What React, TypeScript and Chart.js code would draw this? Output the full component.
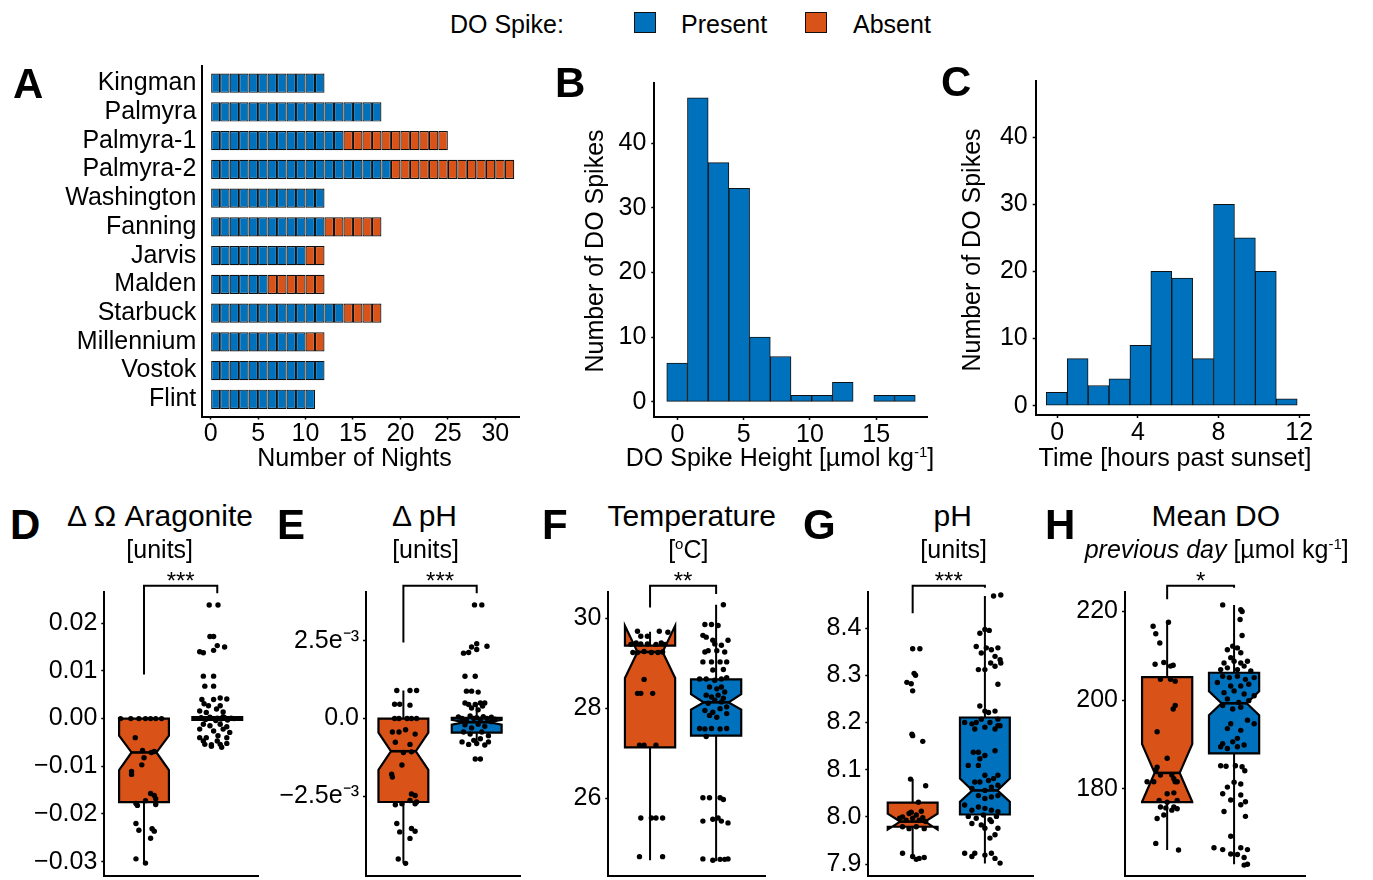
import React, { useEffect, useRef } from "react";
import { Chart, registerables } from "chart.js";

Chart.register(...registerables);

const BLUE = "#0072BD";
const ORANGE = "#D95319";
const EDGE = "#111111";
const FONT = "'Liberation Sans', Arial, Helvetica, sans-serif";

Chart.defaults.font.family = FONT;
Chart.defaults.font.size = 25;
Chart.defaults.color = "#000";

// ---------------- Panel A: nights per site ----------------
const sites = ["Kingman", "Palmyra", "Palmyra-1", "Palmyra-2", "Washington", "Fanning", "Jarvis", "Malden", "Starbuck", "Millennium", "Vostok", "Flint"];
const nightsPresent = [12, 18, 14, 19, 12, 12, 10, 6, 14, 10, 12, 11];
const nightsAbsent = [0, 0, 11, 13, 0, 6, 2, 6, 4, 2, 0, 0];
const nightTicks = [0, 5, 10, 15, 20, 25, 30];

// ---------------- Panel B: spike height histogram ----------------
const heightBinStarts = [-0.8, 0.7625, 2.325, 3.8875, 5.45, 7.0125, 8.575, 10.1375, 11.7, 13.2625, 14.825, 16.3875];
const heightBinWidth = 1.5625;
const heightCounts = [6, 47, 37, 33, 10, 7, 1, 1, 3, 0, 1, 1];
const heightTicks = [0, 5, 10, 15];
const spikeCountTicks = [0, 10, 20, 30, 40];

// ---------------- Panel C: spike time histogram ----------------
const timeBinStarts = [-0.545, 0.492, 1.529, 2.566, 3.603, 4.64, 5.677, 6.714, 7.751, 8.788, 9.825, 10.862];
const timeBinWidth = 1.037;
const timeCounts = [2, 7, 3, 4, 9, 20, 19, 7, 30, 25, 20, 1];
const timeTicks = [0, 4, 8, 12];

// ---------------- Panels D-H: box plots ----------------
type Pt = [number, number]; // [jitter offset from group centre, value]
type Box = { low: number; q1: number; med: number; q3: number; high: number; nLo: number; nHi: number };

// D: delta Omega aragonite
const aragTicks = [-0.03, -0.02, -0.01, 0, 0.01, 0.02];
const aragTickLabels = ["\u22120.03", "\u22120.02", "\u22120.01", "0.00", "0.01", "0.02"];
const aragAbsentBox: Box = { low: -0.0304, q1: -0.0175, med: -0.0071, q3: 0.0, high: 0.0, nLo: -0.0108, nHi: -0.0036 };
const aragPresentBox: Box = { low: -0.0006, q1: -0.0003, med: 0.0, q3: 0.0003, high: 0.0005, nLo: -0.0001, nHi: 0.0001 };
const aragAbsentPts: Pt[] = [
  [-0.32, 0.0], [-0.18, 0.0], [-0.07, 0.0], [0.02, 0.0], [0.09, 0.0], [0.16, 0.0], [0.24, 0.0],
  [-0.12, -0.004], [-0.02, -0.0067], [0.1, -0.0071], [0.14, -0.0069], [0.0, -0.0082], [-0.03, -0.0097],
  [-0.17, -0.0111], [-0.17, -0.0117], [0.09, -0.0157], [0.14, -0.0161], [0.16, -0.0168], [0.02, -0.0172],
  [-0.11, -0.0178], [-0.09, -0.0182], [0.16, -0.018], [-0.11, -0.022], [-0.07, -0.0234], [0.11, -0.0231],
  [0.14, -0.0236], [0.09, -0.0251], [-0.11, -0.0294], [0.02, -0.0303],
];
const aragPresentPts: Pt[] = [
  [-0.11, 0.0238], [0.01, 0.0238], [-0.1, 0.0172], [-0.05, 0.0172], [0.0, 0.0153], [0.1, 0.015], [-0.24, 0.014], [-0.19, 0.0138], [-0.05, 0.0143],
  [-0.19, 0.0089], [-0.05, 0.0089], [-0.17, 0.0068], [-0.05, 0.0068],
  [-0.21, 0.004], [-0.05, 0.004], [0.04, 0.0043], [0.13, 0.0041], [-0.18, 0.0031], [-0.12, 0.0027], [0.04, 0.0027],
  [-0.24, 0.0016], [-0.15, 0.0013], [-0.01, 0.002], [0.08, 0.0014],
  [-0.22, 0.0002], [-0.16, -0.0002], [-0.1, 0.0003], [-0.05, 0.0], [0.0, 0.0001], [0.05, -0.0001], [0.1, 0.0002], [0.14, -0.0003], [0.19, 0.0001], [0.23, 0.0], [-0.02, -0.0004], [0.08, 0.0004],
  [-0.19, -0.0012], [-0.1, -0.0015], [0.04, -0.0012], [0.13, -0.0017], [-0.24, -0.0022], [-0.05, -0.0026], [0.08, -0.0022], [0.17, -0.0029],
  [-0.24, -0.004], [-0.15, -0.004], [0.01, -0.0036], [0.13, -0.004], [-0.19, -0.0047], [0.0, -0.0047],
  [-0.17, -0.0054], [-0.08, -0.0055], [0.04, -0.0054], [0.13, -0.0052], [-0.08, -0.0058], [0.06, -0.006],
];
const aragBracket = [0.02783, 0.00923, 0.02625];
const aragStars = "***";

// E: delta pH
const dphTicks = [-0.0025, 0, 0.0025];
const dphTickLabels = ["\u22122.5e\u207B\u00B3", "0.0", "2.5e\u207B\u00B3"];
const dphAbsentBox: Box = { low: -0.00465, q1: -0.00268, med: -0.00105, q3: 0.0, high: 0.0009, nLo: -0.00165, nHi: -0.00045 };
const dphPresentBox: Box = { low: -0.00085, q1: -0.00045, med: -0.00012, q3: 0.00002, high: 0.0005, nLo: -0.0002, nHi: -0.00004 };
const dphAbsentPts: Pt[] = [
  [-0.09, 0.0009], [0.09, 0.0009], [0.18, 0.0009], [-0.12, 0.00046], [-0.05, 0.00046], [0.09, 0.00043],
  [-0.12, 0.0], [-0.06, 0.0], [0.05, 0.0], [0.11, 0.0], [0.18, 0.0],
  [-0.15, -0.00043], [-0.06, -0.00043], [0.03, -0.00036], [0.16, -0.0005],
  [-0.11, -0.00076], [0.09, -0.00083], [0.0, -0.00109], [0.11, -0.00107], [-0.02, -0.00149], [-0.16, -0.00179], [-0.15, -0.00188],
  [0.11, -0.00242], [0.16, -0.00247], [0.09, -0.00263], [0.18, -0.00268], [-0.11, -0.00277], [-0.02, -0.00274], [0.16, -0.00274],
  [-0.09, -0.00337], [-0.05, -0.00364], [0.11, -0.00353], [0.16, -0.00362], [0.09, -0.00385], [-0.07, -0.00451], [0.03, -0.00465],
];
const dphPresentPts: Pt[] = [
  [-0.03, 0.00365], [0.07, 0.00365], [0.0, 0.0024], [0.14, 0.00232], [-0.07, 0.0023], [-0.18, 0.0021], [-0.11, 0.00212], [0.0, 0.00222],
  [-0.16, 0.00136], [-0.02, 0.00136], [-0.14, 0.00088], [-0.07, 0.00088], [0.02, 0.00085],
  [-0.16, 0.0005], [-0.11, 0.00045], [-0.02, 0.00045], [0.05, 0.0005], [0.11, 0.0005], [-0.07, 0.00034], [0.02, 0.00028], [0.08, 0.0004],
  [-0.25, 0.00005], [-0.2, 0.0], [-0.14, -0.00005], [-0.09, 0.00008], [-0.04, 0.0], [0.0, 0.00003], [0.05, -0.00003], [0.09, 0.00006], [0.14, 0.0], [0.2, 0.00004], [0.25, -0.00002],
  [-0.16, -0.0002], [-0.07, -0.0003], [0.02, -0.00018], [0.11, -0.00025], [0.2, -0.0001], [-0.18, -0.00043], [-0.09, -0.0005], [0.07, -0.00043], [0.16, -0.00055],
  [-0.2, -0.00075], [-0.11, -0.00083], [0.0, -0.0008], [0.11, -0.00085], [0.16, -0.00075], [-0.04, -0.0007], [0.05, -0.00065],
  [-0.02, -0.0013], [0.05, -0.0013],
];
const dphBracket = [0.004266, 0.002446, 0.004023];
const dphStars = "***";

// F: temperature
const tempTicks = [26, 28, 30];
const tempTickLabels = ["26", "28", "30"];
const tempAbsentBox: Box = { low: 24.62, q1: 27.13, med: 29.25, q3: 29.39, high: 29.7, nLo: 28.67, nHi: 29.83 };
const tempPresentBox: Box = { low: 24.6, q1: 27.39, med: 28.13, q3: 28.64, high: 30.3, nLo: 27.97, nHi: 28.31 };
const tempAbsentPts: Pt[] = [
  [-0.19, 29.71], [0.14, 29.71], [0.27, 29.69], [-0.14, 29.6], [-0.04, 29.6],
  [-0.29, 29.42], [-0.21, 29.45], [-0.14, 29.43], [-0.04, 29.43], [0.09, 29.42], [0.17, 29.45], [0.23, 29.42],
  [-0.26, 29.24], [-0.19, 29.24], [-0.09, 29.26], [0.02, 29.24], [0.12, 29.24], [0.19, 29.25],
  [-0.09, 28.64], [-0.19, 28.33], [-0.14, 28.33], [0.04, 28.33],
  [-0.16, 27.18], [-0.09, 27.18], [0.09, 27.18],
  [-0.14, 25.56], [0.02, 25.56], [0.09, 25.56], [0.19, 25.56],
  [-0.16, 24.7], [0.19, 24.7],
];
const tempPresentPts: Pt[] = [
  [0.11, 30.3], [-0.17, 29.86], [-0.07, 29.86], [0.03, 29.84], [-0.2, 29.62], [-0.15, 29.58], [-0.05, 29.51],
  [-0.02, 29.43], [0.08, 29.4], [0.18, 29.51], [-0.17, 29.25], [-0.12, 29.28], [0.01, 29.28], [0.13, 29.25],
  [-0.2, 29.03], [-0.07, 29.03], [0.06, 29.03], [0.16, 29.03], [-0.05, 28.85], [0.11, 28.86],
  [-0.25, 28.65], [-0.15, 28.65], [-0.02, 28.62], [0.08, 28.65], [0.16, 28.68],
  [-0.1, 28.47], [0.01, 28.43], [0.08, 28.47], [0.13, 28.36],
  [-0.15, 28.29], [-0.07, 28.25], [0.03, 28.29], [0.11, 28.22], [-0.02, 28.18], [0.08, 28.14], [-0.12, 28.11], [0.16, 28.03],
  [-0.17, 27.95], [-0.05, 27.91], [0.06, 27.99], [0.16, 27.88], [-0.1, 27.84], [0.01, 27.8],
  [-0.25, 27.55], [-0.17, 27.54], [-0.07, 27.55], [0.06, 27.54], [0.16, 27.55], [-0.15, 27.37],
  [-0.2, 26.01], [-0.1, 26.01], [0.06, 26.01], [0.11, 25.97],
  [-0.2, 25.49], [-0.05, 25.53], [0.03, 25.56], [0.08, 25.49], [0.18, 25.45],
  [-0.2, 24.65], [-0.05, 24.62], [0.06, 24.64], [0.13, 24.64], [0.18, 24.65],
];
const tempBracket = [30.72, 30.24, 30.54];
const tempStars = "**";

// G: pH
const phTicks = [7.9, 8.0, 8.1, 8.2, 8.3, 8.4];
const phTickLabels = ["7.9", "8.0", "8.1", "8.2", "8.3", "8.4"];
const phAbsentBox: Box = { low: 7.912, q1: 7.979, med: 7.99, q3: 8.03, high: 8.08, nLo: 7.973, nHi: 8.007 };
const phPresentBox: Box = { low: 7.901, q1: 8.005, med: 8.056, q3: 8.2105, high: 8.468, nLo: 8.032, nHi: 8.081 };
const phAbsentPts: Pt[] = [
  [0.0, 8.356], [0.1, 8.356], [-0.08, 8.285], [-0.02, 8.282], [0.02, 8.304], [0.04, 8.3], [0.0, 8.267],
  [-0.01, 8.175], [0.0, 8.172], [0.14, 8.16], [-0.03, 8.08], [0.18, 8.066], [0.08, 8.031],
  [-0.14, 8.0], [-0.05, 8.007], [0.05, 8.004], [0.14, 7.998], [-0.18, 7.997], [-0.09, 7.993], [0.0, 7.997], [0.09, 7.993], [0.18, 7.99],
  [-0.14, 7.979], [-0.05, 7.975], [0.05, 7.979], [0.16, 7.975], [-0.02, 8.01], [0.12, 8.012],
  [-0.14, 7.923], [0.0, 7.916], [0.09, 7.912], [0.16, 7.914], [0.05, 7.91],
];
const phPresentPts: Pt[] = [
  [0.12, 8.468], [0.22, 8.47], [-0.07, 8.389], [0.0, 8.397], [0.06, 8.395],
  [-0.12, 8.361], [0.02, 8.358], [0.09, 8.354], [0.18, 8.358], [0.14, 8.34], [0.21, 8.333], [-0.09, 8.312], [0.0, 8.312], [0.08, 8.326], [0.14, 8.319], [0.22, 8.326], [0.18, 8.281], [-0.05, 8.347],
  [-0.07, 8.235], [0.0, 8.224], [0.05, 8.221], [0.14, 8.224], [0.18, 8.207],
  [-0.28, 8.2], [-0.18, 8.197], [-0.12, 8.2], [-0.05, 8.207], [0.07, 8.2], [0.18, 8.193], [0.21, 8.193], [-0.14, 8.186], [0.0, 8.19], [0.14, 8.186],
  [-0.16, 8.137], [-0.09, 8.137], [0.0, 8.13], [-0.07, 8.123], [0.14, 8.14], [-0.23, 8.109], [-0.09, 8.109],
  [0.0, 8.088], [0.12, 8.081], [0.18, 8.088], [-0.07, 8.074], [0.05, 8.077], [0.18, 8.067], [-0.14, 8.074], [-0.18, 8.06], [0.0, 8.056], [0.09, 8.063], [-0.09, 8.045], [0.0, 8.039], [0.09, 8.042], [0.18, 8.045],
  [-0.28, 8.025], [-0.18, 8.014], [-0.09, 8.021], [0.0, 8.018], [0.09, 8.014], [0.18, 8.011], [-0.23, 8.001], [-0.12, 7.997], [-0.02, 8.004], [0.07, 7.994], [0.16, 8.001],
  [-0.18, 7.986], [-0.05, 7.983], [0.09, 7.99], [0.18, 7.976], [0.0, 7.976], [0.14, 7.962], [0.07, 7.955],
  [-0.28, 7.923], [-0.18, 7.916], [0.0, 7.919], [0.09, 7.923], [0.14, 7.912], [-0.14, 7.923], [0.21, 7.902],
];
const phBracket = [8.4897, 8.4316, 8.4855];
const phStars = "***";

// H: mean DO previous day
const doTicks = [180, 200, 220];
const doTickLabels = ["180", "200", "220"];
const doAbsentBox: Box = { low: 166.2, q1: 177.0, med: 183.6, q3: 205.2, high: 217.5, nLo: 177.1, nHi: 190.1 };
const doPresentBox: Box = { low: 163.0, q1: 188.0, med: 199.3, q3: 206.2, high: 221.5, nLo: 196.6, nHi: 202.0 };
const doAbsentPts: Pt[] = [
  [-0.21, 216.7], [-0.17, 215.0], [0.02, 217.6], [-0.11, 212.9], [-0.18, 208.1], [-0.05, 208.5], [0.05, 207.7], [0.09, 207.9],
  [-0.1, 204.7], [0.05, 204.7], [0.12, 204.3], [0.12, 198.8], [0.09, 198.0], [-0.15, 192.9], [0.0, 186.9],
  [-0.15, 184.9], [-0.17, 184.2], [0.1, 182.3], [0.15, 181.6], [-0.3, 181.6], [-0.2, 181.6], [-0.1, 183.1], [0.07, 183.1], [0.12, 181.6],
  [0.0, 178.9], [0.1, 179.1], [-0.12, 177.4], [0.0, 177.0], [0.15, 177.4], [-0.1, 175.9], [-0.02, 175.7], [0.1, 175.9], [0.15, 175.5], [0.07, 175.2],
  [-0.15, 173.3], [-0.05, 174.1], [-0.17, 167.7], [0.17, 166.2],
];
const doPresentPts: Pt[] = [
  [-0.17, 221.5], [0.1, 220.4], [0.12, 220.0], [0.09, 218.2], [0.12, 214.6],
  [-0.02, 212.2], [0.05, 211.8], [-0.1, 211.4], [0.1, 210.7],
  [-0.05, 209.6], [-0.15, 208.4], [0.0, 208.8], [0.1, 208.4], [0.2, 208.8], [-0.2, 206.9], [-0.1, 207.3], [0.05, 206.9], [0.15, 207.7], [0.25, 206.6],
  [-0.17, 205.4], [-0.07, 205.1], [0.05, 205.4], [0.17, 204.7], [0.3, 205.1], [-0.25, 204.0], [-0.05, 203.2], [0.1, 203.2], [0.22, 203.6],
  [-0.15, 201.7], [0.0, 202.1], [0.15, 201.4], [0.3, 201.0], [-0.1, 200.3], [0.07, 199.5], [0.22, 199.9], [-0.17, 198.8], [-0.02, 198.0], [0.1, 198.4],
  [-0.05, 194.7], [0.2, 195.5], [0.3, 194.7], [0.1, 193.2], [-0.1, 193.6], [0.05, 191.4], [-0.17, 190.2], [-0.02, 190.6], [0.15, 189.9], [-0.2, 189.5], [-0.1, 189.1], [0.05, 189.5],
  [-0.2, 185.2], [-0.12, 185.1], [0.02, 185.2], [0.12, 185.0], [0.16, 184.1],
  [0.0, 181.5], [0.1, 181.1], [-0.1, 180.4], [-0.17, 178.9], [0.1, 178.6], [0.17, 177.1], [-0.05, 177.5], [0.1, 176.4], [-0.15, 174.9], [0.17, 173.8],
  [-0.05, 169.3], [-0.3, 166.7], [-0.17, 166.3], [0.1, 166.7], [0.2, 166.3], [-0.05, 165.3], [0.05, 165.2], [0.15, 164.5], [0.2, 163.0], [0.15, 162.8],
];
const doBracket = [225.83, 222.78, 225.38];
const doStars = "*";

// ---------------- helpers ----------------
type Rect = { left: number; top: number; width: number; height: number };
type Area = { l: number; t: number; r: number; b: number };

function frame(c: Rect, a: Area) {
  return { padTop: a.t - c.top, padRight: c.left + c.width - a.r, yW: a.l - c.left, xH: c.top + c.height - a.b };
}
const axisBorder = { display: true, color: "#000", width: 2 };
const tickGrid = { display: true, drawOnChartArea: false, drawTicks: true, tickLength: 3, tickWidth: 1.5, tickColor: "#000", offset: false };
const noTickGrid = { display: true, drawOnChartArea: false, drawTicks: false, offset: false };
const fixTicks = (values: number[]) => (s: any) => {
  s.ticks = values.map((v) => ({ value: v }));
};
const fixSize = (prop: "width" | "height", size: number) => (s: any) => {
  s[prop] = size;
  s.paddingTop = 0;
  s.paddingBottom = 0;
  s.paddingLeft = 0;
  s.paddingRight = 0;
};
const baseOptions = (fr: ReturnType<typeof frame>) => ({
  responsive: false,
  animation: false as const,
  events: [] as any[],
  layout: { padding: { top: fr.padTop, right: fr.padRight, left: 0, bottom: 0 } },
  plugins: { legend: { display: false }, tooltip: { enabled: false } },
});

// ---------------- chart configs ----------------
const rectA: Rect = { left: 40, top: 55, width: 500, height: 425 };
function makeA(): any {
  const fr = frame(rectA, { l: 202.3, t: 66, r: 519, b: 416.5 });
  const totals = nightsPresent.map((p, i) => p + nightsAbsent[i]);
  const maxN = Math.max(...totals);
  const datasets: any[] = [];
  for (let k = 0; k < maxN; k++) {
    const data: any[] = [];
    const colors: string[] = [];
    sites.forEach((_, i) => {
      if (k < totals[i]) {
        data.push({ x: [k, k + 1], y: i + 1 });
        colors.push(k < nightsPresent[i] ? BLUE : ORANGE);
      }
    });
    datasets.push({
      data,
      backgroundColor: colors,
      borderColor: EDGE,
      borderWidth: 1.2,
      borderSkipped: false,
      inflateAmount: 0,
      barPercentage: 0.67,
      categoryPercentage: 1,
      grouped: false,
    });
  }
  return {
    type: "bar",
    data: { datasets },
    options: {
      ...baseOptions(fr),
      indexAxis: "y",
      scales: {
        x: {
          type: "linear", min: -0.88, max: 32.5, offset: false,
          afterBuildTicks: fixTicks(nightTicks),
          ticks: { autoSkip: false, maxRotation: 0, padding: 0 },
          grid: tickGrid, border: axisBorder, afterFit: fixSize("height", fr.xH),
        },
        y: {
          type: "linear", min: 0.4, max: 12.6, reverse: true, offset: false,
          afterBuildTicks: fixTicks(sites.map((_, i) => i + 1)),
          ticks: { autoSkip: false, padding: 6, callback: (v: number) => sites[Math.round(v) - 1] },
          grid: noTickGrid, border: axisBorder, afterFit: fixSize("width", fr.yW),
        },
      },
    },
  };
}

function makeHist(rect: Rect, area: Area, starts: number[], width: number, counts: number[], xr: [number, number], xt: number[], yr: [number, number]): any {
  const fr = frame(rect, area);
  return {
    type: "bar",
    data: {
      datasets: [{
        data: counts.map((c, i) => ({ x: starts[i] + width / 2, y: c })),
        backgroundColor: BLUE,
        borderColor: EDGE,
        borderWidth: 1,
        borderSkipped: false,
        barPercentage: 1,
        categoryPercentage: 1,
      }],
    },
    options: {
      ...baseOptions(fr),
      scales: {
        x: {
          type: "linear", min: xr[0], max: xr[1], offset: false,
          afterBuildTicks: fixTicks(xt),
          ticks: { autoSkip: false, maxRotation: 0, padding: 0 },
          grid: tickGrid, border: axisBorder, afterFit: fixSize("height", fr.xH),
        },
        y: {
          type: "linear", min: yr[0], max: yr[1],
          afterBuildTicks: fixTicks(spikeCountTicks),
          ticks: { autoSkip: false, padding: 5 },
          grid: tickGrid, border: axisBorder, afterFit: fixSize("width", fr.yW),
        },
      },
    },
  };
}

type BoxSpec = {
  rect: Rect; area: Area; yr: [number, number]; xr: [number, number]; boxWidth: number;
  ticks: number[]; labels: string[];
  absentPts: Pt[]; presentPts: Pt[]; absentBox: Box; presentBox: Box;
  bracket: number[]; stars: string;
};

function boxPlugin(p: BoxSpec) {
  return {
    id: "notchedBoxes",
    beforeDatasetsDraw(chart: any) {
      const { ctx } = chart;
      const xs = chart.scales.x;
      const ys = chart.scales.y;
      const Y = (v: number) => ys.getPixelForValue(v);
      const groups = [
        { x: 1, b: p.absentBox, fill: ORANGE },
        { x: 2, b: p.presentBox, fill: BLUE },
      ];
      ctx.save();
      ctx.strokeStyle = "#000";
      ctx.lineJoin = "miter";
      for (const g of groups) {
        const b = g.b;
        const cx = xs.getPixelForValue(g.x);
        const x0 = xs.getPixelForValue(g.x - p.boxWidth / 2);
        const x1 = xs.getPixelForValue(g.x + p.boxWidth / 2);
        const ind = (x1 - x0) / 4;
        ctx.lineWidth = 2;
        ctx.beginPath();
        ctx.moveTo(cx, Y(b.q3));
        ctx.lineTo(cx, Y(b.high));
        ctx.moveTo(cx, Y(b.q1));
        ctx.lineTo(cx, Y(b.low));
        ctx.stroke();
        ctx.beginPath();
        ctx.moveTo(x0, Y(b.q3));
        ctx.lineTo(x0, Y(b.nHi));
        ctx.lineTo(x0 + ind, Y(b.med));
        ctx.lineTo(x0, Y(b.nLo));
        ctx.lineTo(x0, Y(b.q1));
        ctx.lineTo(x1, Y(b.q1));
        ctx.lineTo(x1, Y(b.nLo));
        ctx.lineTo(x1 - ind, Y(b.med));
        ctx.lineTo(x1, Y(b.nHi));
        ctx.lineTo(x1, Y(b.q3));
        ctx.closePath();
        ctx.fillStyle = g.fill;
        ctx.fill();
        ctx.lineWidth = 2.2;
        ctx.stroke();
        ctx.lineWidth = 2.6;
        ctx.beginPath();
        ctx.moveTo(x0 + ind, Y(b.med));
        ctx.lineTo(x1 - ind, Y(b.med));
        ctx.stroke();
      }
      ctx.restore();
    },
    afterDraw(chart: any) {
      const { ctx } = chart;
      const xs = chart.scales.x;
      const ys = chart.scales.y;
      const xl = xs.getPixelForValue(1);
      const xr = xs.getPixelForValue(2);
      const top = ys.getPixelForValue(p.bracket[0]);
      ctx.save();
      ctx.strokeStyle = "#000";
      ctx.lineWidth = 2;
      ctx.beginPath();
      ctx.moveTo(xl, ys.getPixelForValue(p.bracket[1]));
      ctx.lineTo(xl, top);
      ctx.lineTo(xr, top);
      ctx.lineTo(xr, ys.getPixelForValue(p.bracket[2]));
      ctx.stroke();
      ctx.fillStyle = "#000";
      ctx.font = `24px ${FONT}`;
      ctx.textAlign = "center";
      ctx.textBaseline = "alphabetic";
      ctx.fillText(p.stars, (xl + xr) / 2, top + 3);
      ctx.restore();
    },
  };
}

function makeBox(p: BoxSpec): any {
  const fr = frame(p.rect, p.area);
  const pointStyle = { pointRadius: 2.7, pointBackgroundColor: "#000", pointBorderWidth: 0, pointBorderColor: "#000", clip: false };
  return {
    type: "scatter",
    data: {
      datasets: [
        { data: p.absentPts.map(([dx, y]) => ({ x: 1 + dx, y })), ...pointStyle },
        { data: p.presentPts.map(([dx, y]) => ({ x: 2 + dx, y })), ...pointStyle },
      ],
    },
    options: {
      ...baseOptions(fr),
      scales: {
        x: {
          type: "linear", min: p.xr[0], max: p.xr[1],
          ticks: { display: false }, grid: { display: false },
          border: axisBorder, afterFit: fixSize("height", fr.xH),
        },
        y: {
          type: "linear", min: p.yr[0], max: p.yr[1],
          afterBuildTicks: fixTicks(p.ticks),
          ticks: { autoSkip: false, padding: 4, callback: (_v: number, i: number) => p.labels[i] },
          grid: tickGrid, border: axisBorder, afterFit: fixSize("width", fr.yW),
        },
      },
    },
    plugins: [boxPlugin(p)],
  };
}

const BOX_TOP = 591.7;
const BOX_BOTTOM = 877.7;
const boxSpecs: BoxSpec[] = [
  {
    rect: { left: 10, top: 560, width: 270, height: 320 }, area: { l: 104.3, t: BOX_TOP, r: 258.3, b: BOX_BOTTOM },
    yr: [-0.033, 0.0266], xr: [0.458, 2.56], boxWidth: 0.68, ticks: aragTicks, labels: aragTickLabels,
    absentPts: aragAbsentPts, presentPts: aragPresentPts, absentBox: aragAbsentBox, presentBox: aragPresentBox, bracket: aragBracket, stars: aragStars,
  },
  {
    rect: { left: 270, top: 560, width: 265, height: 320 }, area: { l: 366, t: BOX_TOP, r: 520.7, b: BOX_BOTTOM },
    yr: [-0.005057, 0.004074], xr: [0.49, 2.6], boxWidth: 0.68, ticks: dphTicks, labels: dphTickLabels,
    absentPts: dphAbsentPts, presentPts: dphPresentPts, absentBox: dphAbsentBox, presentBox: dphPresentBox, bracket: dphBracket, stars: dphStars,
  },
  {
    rect: { left: 540, top: 560, width: 240, height: 320 }, area: { l: 608.3, t: BOX_TOP, r: 765, b: BOX_BOTTOM },
    yr: [24.27, 30.59], xr: [0.368, 2.74], boxWidth: 0.76, ticks: tempTicks, labels: tempTickLabels,
    absentPts: tempAbsentPts, presentPts: tempPresentPts, absentBox: tempAbsentBox, presentBox: tempPresentBox, bracket: tempBracket, stars: tempStars,
  },
  {
    rect: { left: 795, top: 560, width: 250, height: 320 }, area: { l: 868.3, t: BOX_TOP, r: 1033.3, b: BOX_BOTTOM },
    yr: [7.8747, 8.477], xr: [0.386, 2.67], boxWidth: 0.69, ticks: phTicks, labels: phTickLabels,
    absentPts: phAbsentPts, presentPts: phPresentPts, absentBox: phAbsentBox, presentBox: phPresentBox, bracket: phBracket, stars: phStars,
  },
  {
    rect: { left: 1050, top: 560, width: 270, height: 320 }, area: { l: 1125, t: BOX_TOP, r: 1305, b: BOX_BOTTOM },
    yr: [160.34, 224.48], xr: [0.37, 3.06], boxWidth: 0.75, ticks: doTicks, labels: doTickLabels,
    absentPts: doAbsentPts, presentPts: doPresentPts, absentBox: doAbsentBox, presentBox: doPresentBox, bracket: doBracket, stars: doStars,
  },
];

const rectB: Rect = { left: 600, top: 60, width: 350, height: 420 };
const rectC: Rect = { left: 980, top: 60, width: 380, height: 420 };

// ---------------- React components ----------------
function ChartCanvas({ rect, make }: { rect: Rect; make: () => any }) {
  const ref = useRef<HTMLCanvasElement>(null);
  useEffect(() => {
    const chart = new Chart(ref.current as HTMLCanvasElement, make());
    return () => chart.destroy();
  }, []);
  return (
    <canvas
      ref={ref}
      width={rect.width}
      height={rect.height}
      style={{ position: "absolute", left: rect.left, top: rect.top, width: rect.width, height: rect.height }}
    />
  );
}

type TxtProps = { x: number; y: number; size: number; align?: "left" | "center" | "right"; bold?: boolean; italic?: boolean; children: React.ReactNode };
function Txt({ x, y, size, align = "left", bold, italic, children }: TxtProps) {
  return (
    <div
      style={{
        position: "absolute", left: x, top: y - 0.8465 * size, fontSize: size, lineHeight: `${size}px`,
        fontFamily: FONT, fontWeight: bold ? 700 : 400, fontStyle: italic ? "italic" : "normal",
        whiteSpace: "nowrap", color: "#000",
        transform: align === "center" ? "translateX(-50%)" : align === "right" ? "translateX(-100%)" : undefined,
      }}
    >
      {children}
    </div>
  );
}
function VTxt({ x, y, size, children }: { x: number; y: number; size: number; children: React.ReactNode }) {
  return (
    <div
      style={{
        position: "absolute", left: x - 0.094 * size, top: y, fontSize: size, lineHeight: `${size}px`,
        fontFamily: FONT, whiteSpace: "nowrap", color: "#000",
        transform: "translate(-50%, -50%) rotate(-90deg)",
      }}
    >
      {children}
    </div>
  );
}
const Sup = ({ children }: { children: React.ReactNode }) => (
  <span style={{ fontSize: "0.6em", position: "relative", top: "-0.6em", lineHeight: 0 }}>{children}</span>
);

function Swatch({ x, color }: { x: number; color: string }) {
  return (
    <div style={{ position: "absolute", left: x, top: 11.5, width: 20, height: 19, background: color, border: `1px solid ${EDGE}` }} />
  );
}

export default function App() {
  useEffect(() => {
    document.body.style.margin = "0";
  }, []);
  return (
    <div style={{ position: "relative", width: 1373, height: 880, background: "#fff", overflow: "hidden", fontFamily: FONT }}>
      {/* legend */}
      <Txt x={450} y={33} size={25}>DO Spike:</Txt>
      <Swatch x={634} color={BLUE} />
      <Txt x={681} y={33} size={25}>Present</Txt>
      <Swatch x={805} color={ORANGE} />
      <Txt x={853} y={33} size={25}>Absent</Txt>

      {/* charts */}
      <ChartCanvas rect={rectA} make={makeA} />
      <ChartCanvas
        rect={rectB}
        make={() => makeHist(rectB, { l: 654.3, t: 82.7, r: 927.7, b: 417 }, heightBinStarts, heightBinWidth, heightCounts, [-1.74, 18.89], heightTicks, [-2.35, 49.35])}
      />
      <ChartCanvas
        rect={rectC}
        make={() => makeHist(rectC, { l: 1035.7, t: 80.7, r: 1309.3, b: 415 }, timeBinStarts, timeBinWidth, timeCounts, [-1.07, 12.5], timeTicks, [-1.39, 48.4])}
      />
      {boxSpecs.map((s, i) => (
        <ChartCanvas key={i} rect={s.rect} make={() => makeBox(s)} />
      ))}

      {/* axis titles */}
      <Txt x={354.5} y={466} size={25} align="center">Number of Nights</Txt>
      <Txt x={780} y={466} size={25} align="center">DO Spike Height [µmol kg<Sup>-1</Sup>]</Txt>
      <Txt x={1175} y={466} size={25} align="center">Time [hours past sunset]</Txt>
      <VTxt x={596.7} y={250.8} size={25}>Number of DO Spikes</VTxt>
      <VTxt x={973.3} y={250} size={25}>Number of DO Spikes</VTxt>

      {/* box plot titles */}
      <Txt x={160} y={526} size={30} align="center">Δ Ω Aragonite</Txt>
      <Txt x={159.7} y={558} size={25} align="center">[units]</Txt>
      <Txt x={424.5} y={526} size={30} align="center">Δ pH</Txt>
      <Txt x={425.5} y={558} size={25} align="center">[units]</Txt>
      <Txt x={691.7} y={526} size={30} align="center">Temperature</Txt>
      <Txt x={688.3} y={558} size={25} align="center">[<Sup>o</Sup>C]</Txt>
      <Txt x={952.7} y={526} size={30} align="center">pH</Txt>
      <Txt x={953.7} y={558} size={25} align="center">[units]</Txt>
      <Txt x={1215.8} y={526} size={30} align="center">Mean DO</Txt>
      <Txt x={1216.7} y={558} size={25} align="center"><i>previous day</i> [µmol kg<Sup>-1</Sup>]</Txt>

      {/* panel letters */}
      <Txt x={13} y={99} size={42} bold>A</Txt>
      <Txt x={555} y={98} size={42} bold>B</Txt>
      <Txt x={941} y={97} size={42} bold>C</Txt>
      <Txt x={10} y={540} size={42} bold>D</Txt>
      <Txt x={277} y={540} size={42} bold>E</Txt>
      <Txt x={542} y={540} size={42} bold>F</Txt>
      <Txt x={803} y={540} size={42} bold>G</Txt>
      <Txt x={1045} y={540} size={42} bold>H</Txt>
    </div>
  );
}
